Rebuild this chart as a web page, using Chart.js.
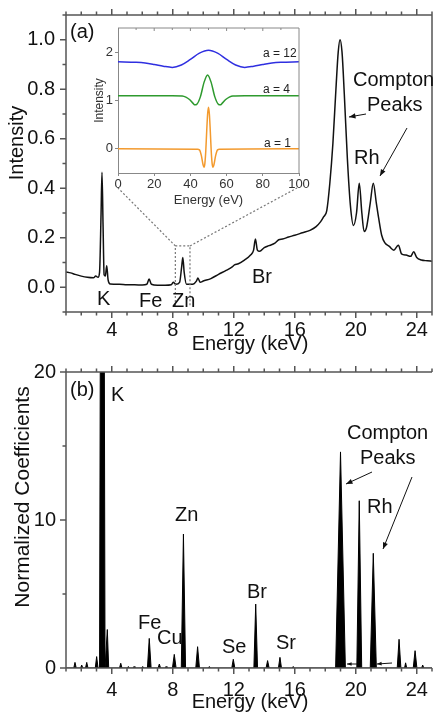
<!DOCTYPE html>
<html><head><meta charset="utf-8">
<script src="https://cdn.jsdelivr.net/npm/chart.js@4/dist/chart.umd.min.js"></script>
<style>
html,body{margin:0;padding:0;background:#fff;width:433px;height:717px;overflow:hidden;}
#wrap{position:relative;width:433px;height:717px;}
canvas{position:absolute;}
#cA{left:0;top:0;}
#cB{left:0;top:362px;}
#cI{left:88px;top:22px;}
</style></head><body>
<div id="wrap">
<canvas id="cA" width="433" height="362"></canvas>
<canvas id="cB" width="433" height="355"></canvas>
<canvas id="cI" width="230" height="186"></canvas>
</div>
<script>
// ---------- DATA ----------
// (a) XRF spectrum
const specEnergy = [1.0,1.3,1.6,2.0,2.4,2.8,2.95,3.1,3.2,3.3,3.36,3.43,3.5,3.58,3.67,3.76,3.9,4.5,5.0,5.5,6.0,6.3,6.45,6.6,7.0,7.5,7.9,8.03,8.2,8.45,8.58,8.66,8.75,8.9,9.3,9.55,9.65,9.8,10.0,10.5,11.0,11.5,11.9,12.05,12.3,12.7,13.1,13.3,13.42,13.55,13.7,14.0,14.3,14.7,14.95,15.2,15.6,16.0,16.5,17.0,17.4,17.7,17.9,18.1,18.3,18.5,18.7,18.85,18.97,19.1,19.25,19.45,19.65,19.85,20.05,20.23,20.4,20.55,20.7,20.95,21.15,21.35,21.5,21.7,21.9,22.2,22.5,22.7,22.8,23.0,23.3,23.6,23.8,24.0,24.3,24.7,25.0];
const specIntensity = [0.062,0.058,0.052,0.045,0.04,0.038,0.045,0.04,0.06,0.3,0.465,0.25,0.05,0.045,0.087,0.03,0.013,0.012,0.01,0.01,0.009,0.012,0.033,0.012,0.008,0.008,0.01,0.02,0.012,0.02,0.08,0.12,0.06,0.012,0.012,0.025,0.037,0.02,0.025,0.035,0.052,0.068,0.082,0.09,0.095,0.11,0.13,0.15,0.195,0.15,0.145,0.16,0.168,0.178,0.192,0.195,0.203,0.21,0.22,0.23,0.245,0.265,0.285,0.31,0.42,0.58,0.8,0.95,1.0,0.95,0.78,0.52,0.33,0.25,0.3,0.42,0.3,0.225,0.24,0.34,0.42,0.34,0.28,0.21,0.18,0.165,0.15,0.165,0.17,0.135,0.13,0.125,0.143,0.12,0.11,0.107,0.105];

// inset wavelets
const insetBlueX = [0,10,15,20,25,30,35,40,45,50,55,60,65,70,75,80,85,90,100];
const insetBlueY = [1.8,1.79,1.775,1.745,1.71,1.685,1.735,1.85,1.98,2.04,1.98,1.85,1.735,1.685,1.71,1.745,1.775,1.79,1.8];
const insetGreenX = [0,30,35.5,37.5,39.5,41.5,42.5,43.5,45.5,47.5,49.5,51.5,53.5,55.5,56.5,57.5,59.5,61.5,63.5,70,100];
const insetGreenY = [1.1,1.1,1.094,1.07,1.02,0.94,0.91,0.92,1.075,1.37,1.53,1.37,1.075,0.92,0.91,0.94,1.02,1.07,1.094,1.1,1.1];
const insetOrangeX = [0,44,45,46,47,47.5,48,48.5,49,49.5,50,50.5,51,51.5,52,52.5,53,54,55,56,100];
const insetOrangeY = [0,-0.01,-0.02,-0.13,-0.33,-0.38,-0.30,-0.04,0.36,0.71,0.86,0.71,0.36,-0.04,-0.30,-0.38,-0.33,-0.13,-0.02,-0.01,0];
const insetLabels = ['a = 12','a = 4','a = 1'];

// (b) normalized coefficients (peak energy, height, half width in keV)
const coefEnergy = [1.59,2.03,2.36,3.01,3.38,3.71,4.59,5.09,5.46,6.03,6.46,7.12,7.56,8.1,8.7,9.63,10.4,11.97,13.44,14.22,15.03,15.9,19.0,20.23,21.15,22.84,23.27,23.89,24.39];
const coefHeight = [0.38,0.2,0.38,0.77,80,2.6,0.32,0.1,0.1,0.1,2.0,0.27,0.1,0.92,9.05,1.44,0.1,0.59,4.32,0.5,0.72,0.1,14.6,11.3,7.75,1.94,0.35,1.17,0.2];
const coefHalfWidth = [0.08,0.07,0.08,0.09,0.18,0.09,0.08,0.06,0.06,0.06,0.12,0.08,0.06,0.12,0.14,0.12,0.06,0.1,0.12,0.1,0.1,0.06,0.32,0.16,0.2,0.12,0.07,0.12,0.07];

// tick labels
const energyTickLabels = [4,8,12,16,20,24];
const intensityTickLabels = [0.0,0.2,0.4,0.6,0.8,1.0];
const coefTickLabels = [0,10,20];
const insetXTickLabels = [0,20,40,60,80,100];
const insetYTickLabels = [0,1,2];

// ---------- STYLE / LAYOUT ----------
Chart.defaults.font.family = "'Liberation Sans', Arial, sans-serif";
Chart.defaults.color = '#111';
const AXIS = '#555';
const FONT = "'Liberation Sans', Arial, sans-serif";

const energyMinor = []; for (let i = 1; i <= 25; i++) energyMinor.push(i);
const intensityMinor = []; for (let i = -1; i <= 11; i++) intensityMinor.push(Math.round(i) / 10);
const coefMinor = [0,5,10,15,20];
const near = (arr, v) => arr.some(m => Math.abs(m - v) < 1e-6);
const zeroPad = s => { s.paddingLeft = 0; s.paddingRight = 0; s.paddingTop = 0; s.paddingBottom = 0; };

function drawArrow(ctx, x1, y1, x2, y2, head) {
  ctx.beginPath(); ctx.moveTo(x1, y1); ctx.lineTo(x2, y2); ctx.stroke();
  const ang = Math.atan2(y2 - y1, x2 - x1);
  ctx.beginPath();
  ctx.moveTo(x2, y2);
  ctx.lineTo(x2 - head * Math.cos(ang - 0.38), y2 - head * Math.sin(ang - 0.38));
  ctx.lineTo(x2 - head * Math.cos(ang + 0.38), y2 - head * Math.sin(ang + 0.38));
  ctx.closePath(); ctx.fill();
}

function frameTicks(chart, xMajor, yMajor, rightBorder) {
  const {ctx, chartArea: a, scales: {x, y}} = chart;
  ctx.save();
  ctx.strokeStyle = AXIS; ctx.lineWidth = 1.5; ctx.setLineDash([]);
  ctx.beginPath();
  ctx.moveTo(a.left, a.top); ctx.lineTo(a.left, a.bottom); ctx.lineTo(a.right, a.bottom);
  ctx.moveTo(a.left, a.top); ctx.lineTo(a.right, a.top);
  if (rightBorder) { ctx.moveTo(a.right, a.top); ctx.lineTo(a.right, a.bottom); }
  x.ticks.forEach(t => {
    const px = x.getPixelForValue(t.value);
    const len = near(xMajor, t.value) ? 6 : 3.5;
    ctx.moveTo(px, a.bottom); ctx.lineTo(px, a.bottom + len);
    ctx.moveTo(px, a.top); ctx.lineTo(px, a.top - len);
  });
  y.ticks.forEach(t => {
    const py = y.getPixelForValue(t.value);
    const len = near(yMajor, t.value) ? 6 : 3.5;
    ctx.moveTo(a.left, py); ctx.lineTo(a.left - len, py);
  });
  ctx.stroke();
  ctx.restore();
}

function drawTexts(ctx, list, offY, size) {
  ctx.save();
  ctx.fillStyle = '#111';
  ctx.font = size + 'px ' + FONT;
  ctx.textBaseline = 'middle'; ctx.textAlign = 'left';
  list.forEach(o => ctx.fillText(o.t, o.x, o.y - offY));
  ctx.restore();
}
function drawTitleText(ctx, text, x, y, size, rot) {
  ctx.save();
  ctx.fillStyle = '#111';
  ctx.font = size + 'px ' + FONT;
  ctx.textBaseline = 'middle'; ctx.textAlign = 'center';
  ctx.translate(x, y); if (rot) ctx.rotate(-Math.PI / 2);
  ctx.fillText(text, 0, 0);
  ctx.restore();
}

const zoomBox = {from: 8.17, to: 9.13, top: 0.167};

const decorA = {
  id: 'decorA',
  afterDraw(chart) {
    const {ctx, chartArea: a, scales: {x, y}} = chart;
    frameTicks(chart, energyTickLabels, intensityTickLabels, true);
    ctx.save();
    ctx.strokeStyle = '#777'; ctx.lineWidth = 1.2; ctx.setLineDash([2, 2]);
    const bx1 = x.getPixelForValue(zoomBox.from), bx2 = x.getPixelForValue(zoomBox.to), by = y.getPixelForValue(zoomBox.top);
    ctx.beginPath();
    ctx.moveTo(bx1, a.bottom - 6); ctx.lineTo(bx1, by); ctx.lineTo(bx2, by); ctx.lineTo(bx2, a.bottom - 6);
    ctx.moveTo(bx1, by); ctx.lineTo(118, 188);
    ctx.moveTo(bx2, by); ctx.lineTo(297, 188);
    ctx.stroke();
    ctx.restore();
    drawTexts(ctx, [
      {t: '(a)', x: 70, y: 32}, {t: 'Compton', x: 353, y: 80}, {t: 'Peaks', x: 367, y: 105},
      {t: 'Rh', x: 354, y: 158}, {t: 'K', x: 97, y: 299}, {t: 'Fe', x: 139, y: 301},
      {t: 'Zn', x: 172, y: 301}, {t: 'Br', x: 252, y: 277}
    ], 0, 20);
    ctx.save();
    ctx.strokeStyle = '#111'; ctx.fillStyle = '#111'; ctx.lineWidth = 1;
    drawArrow(ctx, 366, 114, 349, 117, 7);
    drawArrow(ctx, 407, 128, 380, 176, 7);
    ctx.restore();
    drawTitleText(ctx, 'Intensity', 17, 143, 20, true);
    drawTitleText(ctx, 'Energy (keV)', 250, 344, 20, false);
  }
};

const decorB = {
  id: 'decorB',
  afterDraw(chart) {
    const {ctx} = chart;
    const off = 362;
    frameTicks(chart, energyTickLabels, coefTickLabels, false);
    drawTexts(ctx, [
      {t: '(b)', x: 70, y: 390}, {t: 'K', x: 111, y: 395}, {t: 'Zn', x: 175, y: 515},
      {t: 'Fe', x: 138, y: 623}, {t: 'Cu', x: 157, y: 638}, {t: 'Se', x: 222, y: 647},
      {t: 'Br', x: 247, y: 592}, {t: 'Sr', x: 276, y: 643}, {t: 'Compton', x: 347, y: 433},
      {t: 'Peaks', x: 360, y: 458}, {t: 'Rh', x: 367, y: 507}
    ], off, 20);
    ctx.save();
    ctx.strokeStyle = '#111'; ctx.fillStyle = '#111'; ctx.lineWidth = 1;
    drawArrow(ctx, 372, 472 - off, 346, 484 - off, 7);
    drawArrow(ctx, 412, 477 - off, 383, 549 - off, 7);
    drawArrow(ctx, 357, 664 - off, 347, 664 - off, 5);
    drawArrow(ctx, 392, 663 - off, 377, 664 - off, 5);
    ctx.restore();
    drawTitleText(ctx, 'Normalized Coefficients', 23, 497 - off, 21, true);
    drawTitleText(ctx, 'Energy (keV)', 250, 702 - off, 20, false);
  }
};

const decorI = {
  id: 'decorI',
  afterDraw(chart) {
    const {ctx, chartArea: a, scales: {x}} = chart;
    ctx.save();
    ctx.strokeStyle = '#888'; ctx.lineWidth = 1;
    ctx.beginPath();
    ctx.moveTo(a.left, a.top); ctx.lineTo(a.right, a.top); ctx.lineTo(a.right, a.bottom);
    for (let v = 10; v < 100; v += 10) {
      const px = x.getPixelForValue(v);
      ctx.moveTo(px, a.top); ctx.lineTo(px, a.top + (v % 20 === 0 ? 3 : 2));
    }
    ctx.stroke();
    ctx.fillStyle = '#222';
    ctx.font = '12px ' + FONT; ctx.textBaseline = 'middle'; ctx.textAlign = 'left';
    ctx.fillText(insetLabels[0], 175, 32);
    ctx.fillText(insetLabels[1], 175, 68);
    ctx.fillText(insetLabels[2], 176, 122);
    ctx.restore();
  }
};

const pts = (xs, ys) => xs.map((v, i) => ({x: v, y: ys[i]}));

// ---------- CHART A ----------
new Chart(document.getElementById('cA'), {
  type: 'line',
  data: {datasets: [{
    data: pts(specEnergy, specIntensity), borderColor: '#111', borderWidth: 1.5,
    pointRadius: 0, fill: false, cubicInterpolationMode: 'monotone'
  }]},
  options: {
    responsive: false, animation: false, events: [],
    layout: {padding: {top: 15, right: 1, left: 0, bottom: 0}},
    plugins: {legend: {display: false}, tooltip: {enabled: false}},
    scales: {
      x: {type: 'linear', min: 1, max: 25,
        grid: {display: false, drawTicks: false}, border: {display: false},
        afterBuildTicks: s => { s.ticks = energyMinor.map(v => ({value: v})); },
        ticks: {autoSkip: false, maxRotation: 0, padding: 6, font: {size: 20}, color: '#111',
          callback: v => near(energyTickLabels, v) ? String(v) : ''},
        afterFit: s => { s.height = 50; zeroPad(s); }},
      y: {type: 'linear', min: -0.1, max: 1.1,
        grid: {display: false, drawTicks: false}, border: {display: false},
        afterBuildTicks: s => { s.ticks = intensityMinor.map(v => ({value: v})); },
        ticks: {autoSkip: false, padding: 11, font: {size: 20}, color: '#111',
          callback: v => near(intensityTickLabels, v) ? Math.abs(v).toFixed(1) : ''},
        afterFit: s => { s.width = 66; zeroPad(s); }}
    }
  },
  plugins: [decorA]
});

// ---------- CHART B ----------
const coefPoints = [{x: 1, y: 0}];
coefEnergy.forEach((e, i) => {
  const w = coefHalfWidth[i];
  coefPoints.push({x: e - w, y: 0}, {x: e, y: coefHeight[i]}, {x: e + w, y: 0});
});
coefPoints.push({x: 25, y: 0});

new Chart(document.getElementById('cB'), {
  type: 'line',
  data: {datasets: [{
    data: coefPoints, borderColor: '#000', borderWidth: 1, backgroundColor: '#000',
    pointRadius: 0, fill: 'origin', tension: 0
  }]},
  options: {
    responsive: false, animation: false, events: [],
    layout: {padding: {top: 10, right: 1, left: 0, bottom: 0}},
    plugins: {legend: {display: false}, tooltip: {enabled: false}},
    scales: {
      x: {type: 'linear', min: 1, max: 25,
        grid: {display: false, drawTicks: false}, border: {display: false},
        afterBuildTicks: s => { s.ticks = energyMinor.map(v => ({value: v})); },
        ticks: {autoSkip: false, maxRotation: 0, padding: 10, font: {size: 20}, color: '#111',
          callback: v => near(energyTickLabels, v) ? String(v) : ''},
        afterFit: s => { s.height = 49; zeroPad(s); }},
      y: {type: 'linear', min: 0, max: 20,
        grid: {display: false, drawTicks: false}, border: {display: false},
        afterBuildTicks: s => { s.ticks = coefMinor.map(v => ({value: v})); },
        ticks: {autoSkip: false, padding: 10, font: {size: 20}, color: '#111',
          callback: v => near(coefTickLabels, v) ? String(v) : ''},
        afterFit: s => { s.width = 66; zeroPad(s); }}
    }
  },
  plugins: [decorB]
});

// ---------- INSET ----------
new Chart(document.getElementById('cI'), {
  type: 'line',
  data: {datasets: [
    {data: pts(insetBlueX, insetBlueY), borderColor: '#2f2fe0', borderWidth: 1.5, pointRadius: 0, cubicInterpolationMode: 'monotone'},
    {data: pts(insetGreenX, insetGreenY), borderColor: '#2e9a2e', borderWidth: 1.5, pointRadius: 0, cubicInterpolationMode: 'monotone'},
    {data: pts(insetOrangeX, insetOrangeY), borderColor: '#f39a2e', borderWidth: 1.5, pointRadius: 0, cubicInterpolationMode: 'monotone'}
  ]},
  options: {
    responsive: false, animation: false, events: [],
    layout: {padding: {top: 6, right: 19, left: 0, bottom: 0}},
    plugins: {legend: {display: false}, tooltip: {enabled: false}},
    scales: {
      x: {type: 'linear', min: 0, max: 100,
        grid: {drawOnChartArea: false, tickLength: 3, color: '#888'}, border: {color: '#888'},
        afterBuildTicks: s => { s.ticks = insetXTickLabels.map(v => ({value: v})); },
        ticks: {autoSkip: false, maxRotation: 0, padding: 1, font: {size: 13}, color: '#333'},
        title: {display: true, text: 'Energy (eV)', font: {size: 13}, color: '#333', padding: {top: 0, bottom: 0}},
        afterFit: s => { s.height = 35; zeroPad(s); }},
      y: {type: 'linear', min: -0.5, max: 2.5,
        grid: {drawOnChartArea: false, tickLength: 3, color: '#888'}, border: {color: '#888'},
        afterBuildTicks: s => { s.ticks = insetYTickLabels.map(v => ({value: v})); },
        ticks: {autoSkip: false, padding: 2, font: {size: 13}, color: '#333'},
        title: {display: true, text: 'Intensity', font: {size: 12}, color: '#333', padding: {top: 4, bottom: 0}},
        afterFit: s => { s.width = 30; zeroPad(s); }}
    }
  },
  plugins: [decorI]
});
</script>
</body></html>
